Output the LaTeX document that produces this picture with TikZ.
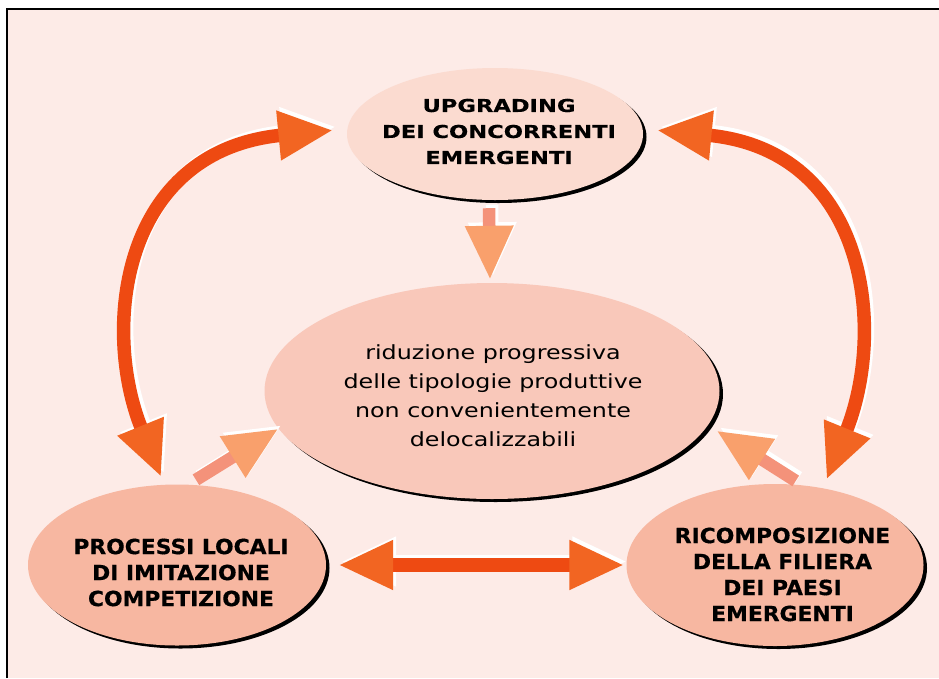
\documentclass[tikz,border=0pt]{standalone}
\usepackage{fontspec}
\setmainfont{DejaVu Sans}[FakeStretch=1.22]
\newfontfamily\upfont{DejaVu Sans}[FakeStretch=1.27, BoldFeatures={FakeBold=0.4}]
\newfontfamily\lowfont{DejaVu Sans}[FakeStretch=1.05, BoldFeatures={FakeBold=0.5}]
\usetikzlibrary{arrows.meta,positioning,shapes.geometric,shadows,calc}
\definecolor{bgpink}{RGB}{253,235,231}
\definecolor{toppeach}{RGB}{251,219,208}
\definecolor{midpeach}{RGB}{249,200,186}
\definecolor{lowpeach}{RGB}{247,183,161}
\definecolor{shaftred}{RGB}{238,74,18}
\definecolor{headorange}{RGB}{242,101,34}
\definecolor{softshaft}{RGB}{244,146,122}
\definecolor{softhead}{RGB}{249,160,108}
\tikzset{
  % ellisse con ombra nera piena
  blob/.style={ellipse, inner sep=0pt,
    drop shadow={shadow xshift=3.5pt, shadow yshift=-3pt, opacity=1, fill=black}},
  % testi
  upcaps/.style={font=\upfont\fontsize{17.8}{26}\selectfont\bfseries, align=center},
  lowcaps/.style={font=\lowfont\fontsize{20.8}{26}\selectfont\bfseries, align=center},
  plain/.style={font=\fontsize{19.5}{29}\selectfont, align=center},
  % punte
  bigtips/.style={{Triangle[length=55pt,width=46pt,color=#1]}-{Triangle[length=55pt,width=46pt,color=#1]}},
  softtip/.style={-{Triangle[length=54pt,width=45pt,color=#1]}},
  % riflesso bianco spostato in alto a destra
  glint/.style={draw=white, transform canvas={shift={(3pt,3.5pt)}}},
  % frecce grandi a due punte
  bigarr/.style={line width=13.5pt, draw=shaftred, bigtips=headorange},
  bigglint/.style={line width=13.5pt, glint, bigtips=white},
  % frecce chiare verso il centro
  softarr/.style={line width=12.5pt, draw=softshaft, softtip=softhead},
  softglint/.style={line width=12.5pt, glint, softtip=white},
}
\begin{document}
\begin{tikzpicture}[x=1pt, y=-1pt]
  % sfondo e cornice
  \useasboundingbox (0,0) rectangle (939,678);
  \fill[white] (0,0) rectangle (939,678);
  \fill[bgpink] (7,9) rectangle (939,678);
  \draw[line width=1.2pt] (7,678) -- (7,9) -- (939,9);

  % ellissi
  \node[blob, fill=toppeach, minimum width=296pt, minimum height=132pt] (up) at (495,134) {};
  \node[blob, fill=midpeach, minimum width=455pt, minimum height=216pt] (mid) at (492,391) {};
  \node[blob, fill=lowpeach, minimum width=298pt, minimum height=161pt] (pl) at (177,565) {};
  \node[blob, fill=lowpeach, minimum width=297pt, minimum height=162pt] (br) at (775,565) {};

  % testi
  \node[upcaps] (up-txt) at (499,131.5) {UPGRADING\\DEI CONCORRENTI\\EMERGENTI};
  \node[plain] (mid-txt) at (493,396) {riduzione progressiva\\delle tipologie produttive\\non convenientemente\\delocalizzabili};
  \node[lowcaps] (pl-txt) at (181,572.5) {PROCESSI LOCALI\\DI IMITAZIONE\\COMPETIZIONE};
  \node[lowcaps] (br-txt) at (782.5,574.5) {RICOMPOSIZIONE\\DELLA FILIERA\\DEI PAESI\\EMERGENTI};

  % frecce grandi
  \draw[bigglint, shorten <=8pt, shorten >=14pt] (pl.99) .. controls +(-63,-155) and +(-227,22) .. (up.178);
  \draw[bigarr, shorten <=8pt, shorten >=14pt] (pl.99) .. controls +(-63,-155) and +(-227,22) .. (up.178);
  \draw[bigglint, shorten <=14pt, shorten >=9pt] (up.2) .. controls +(227,22) and +(63,-155) .. (br.58);
  \draw[bigarr, shorten <=14pt, shorten >=9pt] (up.2) .. controls +(227,22) and +(63,-155) .. (br.58);
  \draw[bigglint, shorten <=12pt, shorten >=2pt] (pl.east) -- (br.west);
  \draw[bigarr, shorten <=12pt, shorten >=2pt] (pl.east) -- (br.west);

  % frecce verso il centro
  \draw[softglint] ($(up.south)+(-6,8)$) -- ($(mid.north)+(-2,-3)$);
  \draw[softarr] ($(up.south)+(-6,8)$) -- ($(mid.north)+(-2,-3)$);
  \draw[softglint, shorten <=9pt] (pl.82) -- (mid.190);
  \draw[softarr, shorten <=9pt] (pl.82) -- (mid.190);
  \draw[softglint, shorten <=8pt, shorten >=10pt] (br.71) -- (mid.351);
  \draw[softarr, shorten <=8pt, shorten >=10pt] (br.71) -- (mid.351);
\end{tikzpicture}
\end{document}
